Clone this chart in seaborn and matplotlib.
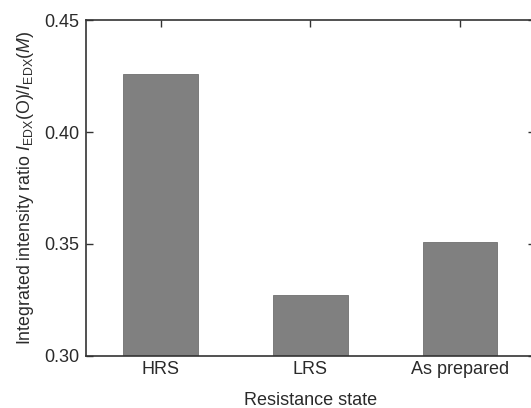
import matplotlib
matplotlib.use("Agg")
import matplotlib.pyplot as plt
import seaborn as sns
import pandas as pd

categories = ["HRS", "LRS", "As prepared"]
values = [0.426, 0.327, 0.351]
yticks = [0.30, 0.35, 0.40, 0.45]

sns.set_theme(style="ticks")
plt.rcParams["font.family"] = ["Liberation Sans", "DejaVu Sans"]
plt.rcParams["mathtext.fontset"] = "custom"
plt.rcParams["mathtext.rm"] = "Liberation Sans"
plt.rcParams["mathtext.it"] = "Liberation Sans:italic"

df = pd.DataFrame({"state": categories, "ratio": values})

fig = plt.figure(figsize=(5.31, 4.08), dpi=100)
ax = fig.add_axes([0.162, 0.128, 0.845, 0.822])
sns.barplot(data=df, x="state", y="ratio", color="#808080", saturation=1,
            width=0.5, edgecolor="#707070", linewidth=0.6, ax=ax)
ax.set_ylim(0.30, 0.45)
ax.set_xlim(-0.5, 2.5)
ax.set_yticks(yticks)
ax.set_yticklabels([f"{t:.2f}" for t in yticks], fontsize=13, color="#2a2a2a")
ax.tick_params(axis="x", labelsize=13, labelcolor="#2a2a2a", direction="in",
               length=5, top=True, bottom=False, width=1, color="#333333", pad=4)
ax.tick_params(axis="y", direction="in", length=5, right=True, width=1,
               color="#333333", pad=5)
for s in ax.spines.values():
    s.set_linewidth(1.2)
    s.set_color("#333333")
ax.set_xlabel("Resistance state", fontsize=13, color="#2a2a2a", labelpad=9.5)
ax.set_ylabel(r"Integrated intensity ratio $I_{\mathrm{EDX}}$(O)/$I_{\mathrm{EDX}}$($M$)",
              fontsize=12.8, color="#2a2a2a", labelpad=6)
fig.savefig("out.png", dpi=100)
